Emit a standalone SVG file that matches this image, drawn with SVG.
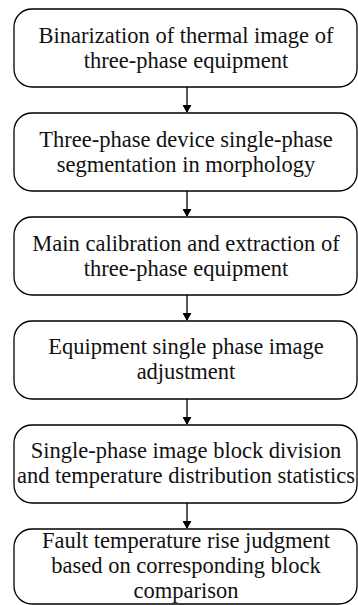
<svg xmlns="http://www.w3.org/2000/svg" width="358" height="605" viewBox="0 0 358 605">
  <style>
    .box { fill: #ffffff; stroke: #000000; stroke-width: 1.3; }
    .lbl { font-family: "Liberation Serif", "Times New Roman", serif; font-size: 22.5px; fill: #111111; text-anchor: middle; }
    .conn { stroke: #000000; stroke-width: 1.3; fill: none; }
  </style>
  <defs>
    <marker id="arrow" markerWidth="8" markerHeight="9" refX="7" refY="4.5" orient="auto" markerUnits="userSpaceOnUse">
      <path d="M0,0 L8,4.5 L0,9 Z" fill="#000000"/>
    </marker>
  </defs>
  <rect width="358" height="605" fill="#ffffff"/>

  <!-- vertical flow arrows between consecutive steps -->
  <g id="connectors">
    <line class="conn" x1="187" y1="87" x2="187" y2="112" marker-end="url(#arrow)"/>
    <line class="conn" x1="187" y1="191" x2="187" y2="216" marker-end="url(#arrow)"/>
    <line class="conn" x1="187" y1="295" x2="187" y2="320" marker-end="url(#arrow)"/>
    <line class="conn" x1="187" y1="399" x2="187" y2="424" marker-end="url(#arrow)"/>
    <line class="conn" x1="187" y1="503" x2="187" y2="528" marker-end="url(#arrow)"/>
  </g>

  <g id="n1">
    <rect class="box" x="14" y="9" width="343" height="78" rx="18" ry="18"/>
    <text class="lbl" x="186" y="43">Binarization of thermal image of</text>
    <text class="lbl" x="186" y="67.5">three-phase equipment</text>
  </g>
  <g id="n2">
    <rect class="box" x="14" y="113" width="343" height="78" rx="18" ry="18"/>
    <text class="lbl" x="186" y="147">Three-phase device single-phase</text>
    <text class="lbl" x="186" y="171.5">segmentation in morphology</text>
  </g>
  <g id="n3">
    <rect class="box" x="14" y="217" width="343" height="78" rx="18" ry="18"/>
    <text class="lbl" x="186" y="251">Main calibration and extraction of</text>
    <text class="lbl" x="186" y="275.5">three-phase equipment</text>
  </g>
  <g id="n4">
    <rect class="box" x="14" y="321" width="343" height="78" rx="18" ry="18"/>
    <text class="lbl" x="186" y="354">Equipment single phase image</text>
    <text class="lbl" x="186" y="378.5">adjustment</text>
  </g>
  <g id="n5">
    <rect class="box" x="14" y="425" width="343" height="78" rx="18" ry="18"/>
    <text class="lbl" x="186" y="458">Single-phase image block division</text>
    <text class="lbl" x="186" y="482.5">and temperature distribution statistics</text>
  </g>
  <g id="n6">
    <rect class="box" x="14" y="529" width="343" height="75" rx="18" ry="18"/>
    <text class="lbl" x="186" y="548">Fault temperature rise judgment</text>
    <text class="lbl" x="186" y="573">based on corresponding block</text>
    <text class="lbl" x="186" y="598">comparison</text>
  </g>
</svg>
